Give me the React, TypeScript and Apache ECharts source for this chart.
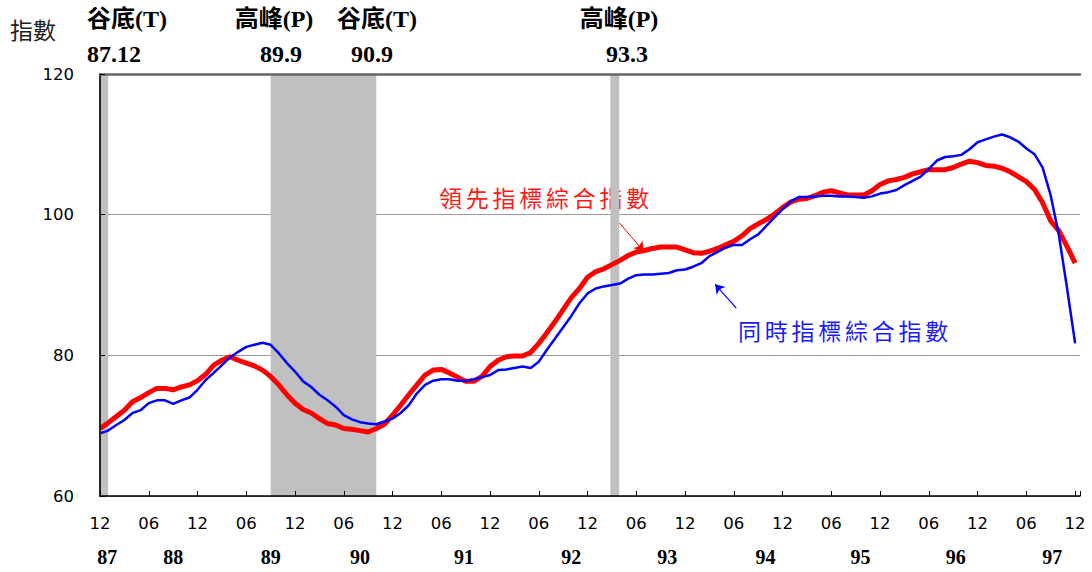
import React, { useEffect, useRef } from 'react';
import * as echarts from 'echarts';

// Monthly data, index 0 = 87.12 ... index 120 = 97.12
const leading = [
  69.6, 70.4, 71.3, 72.2, 73.4, 74.0, 74.7, 75.3, 75.3, 75.1, 75.5, 75.8,
  76.4, 77.3, 78.6, 79.3, 79.8, 79.3, 78.9, 78.5, 77.9, 77.0, 75.8, 74.4,
  73.2, 72.3, 71.8, 71.0, 70.3, 70.1, 69.6, 69.5, 69.3, 69.1, 69.6, 70.2,
  71.5, 72.9, 74.4, 75.8, 77.2, 77.9, 78.0, 77.5, 76.9, 76.3, 76.3, 77.0,
  78.4, 79.3, 79.8, 79.9, 79.9, 80.4, 81.7, 83.2, 84.8, 86.5, 88.2, 89.5,
  91.1, 91.9, 92.3, 92.9, 93.5, 94.2, 94.7, 94.9, 95.2, 95.4, 95.4, 95.4,
  95.0, 94.6, 94.5, 94.8, 95.2, 95.7, 96.2, 97.0, 98.0, 98.7, 99.3, 100.1,
  101.0, 101.8, 102.2, 102.3, 102.7, 103.2, 103.4, 103.1, 102.8, 102.8, 102.8, 103.4,
  104.3, 104.8, 105.0, 105.3, 105.8, 106.1, 106.4, 106.4, 106.4, 106.7, 107.2, 107.6,
  107.4, 107.0, 106.9, 106.6, 106.1, 105.4, 104.7, 103.6, 101.7, 99.1, 97.7, 95.5,
  93.1,
];

const coincident = [
  68.9, 69.3, 70.1, 70.8, 71.8, 72.2, 73.2, 73.6, 73.6, 73.1, 73.6, 74.0,
  75.1, 76.5, 77.5, 78.6, 79.7, 80.5, 81.2, 81.5, 81.8, 81.5, 80.3, 78.9,
  77.7, 76.3, 75.5, 74.4, 73.6, 72.7, 71.5, 70.9, 70.5, 70.3, 70.2, 70.6,
  71.0, 71.8, 72.9, 74.6, 75.8, 76.4, 76.6, 76.6, 76.4, 76.4, 76.6, 76.9,
  77.2, 77.9, 78.0, 78.2, 78.4, 78.2, 79.1, 80.8, 82.4, 84.0, 85.6, 87.4,
  88.8, 89.5, 89.8, 90.0, 90.2, 90.9, 91.4, 91.5, 91.5, 91.6, 91.7, 92.1,
  92.2, 92.6, 93.1, 94.1, 94.7, 95.3, 95.7, 95.7, 96.5, 97.2, 98.4, 99.6,
  100.8, 101.9, 102.5, 102.5, 102.6, 102.7, 102.7, 102.6, 102.6, 102.5, 102.4, 102.6,
  103.0, 103.2, 103.5, 104.2, 104.8, 105.4, 106.5, 107.7, 108.2, 108.3, 108.5, 109.3,
  110.3, 110.7, 111.1, 111.4, 111.0, 110.4, 109.4, 108.6, 106.7, 102.7, 97.1, 89.6,
  81.7,
];

const yearLabels = ['87', '88', '89', '90', '91', '92', '93', '94', '95', '96', '97'];
const yearAnchorMonth = [0.9, 9, 21, 32, 44.8, 58, 69.8, 81.9, 93.6, 105.3, 117.2];

// shaded recession spans (month index start, end)
const shadedSpans: [number, number][] = [[0, 1], [21, 34], [62.8, 63.9]];

const turnKinds = ['谷底(T)', '高峰(P)', '谷底(T)', '高峰(P)'];
const turnDates = ['87.12', '89.9', '90.9', '93.3'];

const leadName = '領先指標綜合指數';
const coinName = '同時指標綜合指數';

const X_MAX = 120.6;

export default function App() {
  const ref = useRef<HTMLDivElement>(null);

  useEffect(() => {
    if (!ref.current) return;
    const chart = echarts.init(ref.current, undefined, { renderer: 'svg' });
    const months = leading.map((_, i) => i);
    const sans = "'DejaVu Sans', sans-serif";
    const serifCjk = "'Liberation Serif', 'Noto Sans CJK TC', serif";

    const option: any = {
      animation: false,
      backgroundColor: '#fff',
      grid: { left: 100, top: 74, right: 12, bottom: 76 },
      xAxis: [
        {
          type: 'value', min: 0, max: X_MAX, interval: 6, position: 'bottom', z: 10,
          axisLine: { show: true, lineStyle: { color: '#000', width: 1.5 } },
          axisTick: { show: true, inside: true, length: 5, lineStyle: { color: '#000', width: 1 } },
          axisLabel: {
            showMaxLabel: true, showMinLabel: true,
            fontSize: 16.5, color: '#000', fontFamily: sans, margin: 19,
            formatter: (v: number) => (Math.abs(v % 12) < 1e-6 ? '12' : Math.abs(v % 6) < 1e-6 ? '06' : ''),
          },
          splitLine: { show: false },
        },
        {
          type: 'value', min: 0, max: X_MAX, position: 'top', z: 10,
          axisLine: { show: true, lineStyle: { color: '#666', width: 2.5 } },
          axisTick: { show: false }, axisLabel: { show: false }, splitLine: { show: false },
        },
      ],
      yAxis: [
        {
          type: 'value', min: 60, max: 120, interval: 20, position: 'left',
          axisLine: { show: false }, axisTick: { show: false },
          axisLabel: { fontSize: 16.5, color: '#000', fontFamily: sans, margin: 26 },
          splitLine: { show: true, lineStyle: { color: '#999', width: 1 } },
        },
        {
          type: 'value', min: 60, max: 120, interval: 20, position: 'right', z: 10,
          axisLine: { show: true, lineStyle: { color: '#888', width: 1.5 } },
          axisTick: { show: false }, axisLabel: { show: false }, splitLine: { show: false },
        },
        {
          type: 'value', min: 60, max: 120, interval: 20, position: 'left', z: 10,
          axisLine: { show: true, lineStyle: { color: '#000', width: 1.5 } },
          axisTick: { show: true, inside: true, length: 5, lineStyle: { color: '#000' } },
          axisLabel: { show: false }, splitLine: { show: false },
        },
      ],
      series: [
        {
          type: 'line', name: 'shade', z: 1, silent: true,
          data: months.map((m) => [m, leading[m]]),
          symbol: 'none', lineStyle: { opacity: 0 },
          markArea: {
            silent: true,
            itemStyle: { color: '#c0c0c0', opacity: 1 },
            data: shadedSpans.map(([a, b]) => [{ xAxis: a }, { xAxis: b }]),
          },
        },
        {
          type: 'line', name: leadName, z: 3,
          data: months.map((m) => [m, leading[m]]),
          symbol: 'none',
          lineStyle: { color: '#ff0000', width: 5 },
          markLine: {
            silent: true, symbol: ['none', 'arrow'], symbolSize: 9,
            label: { show: false },
            lineStyle: { color: '#ff0000', width: 1, type: 'solid' },
            data: [[{ coord: [63.95, 98.8] }, { coord: [66.9, 94.8] }]],
          },
        },
        {
          type: 'line', name: coinName, z: 4,
          data: months.map((m) => [m, coincident[m]]),
          symbol: 'none',
          lineStyle: { color: '#0000ff', width: 2.5 },
          markLine: {
            silent: true, symbol: ['none', 'arrow'], symbolSize: 9,
            label: { show: false },
            lineStyle: { color: '#0000ff', width: 1.2, type: 'solid' },
            data: [[{ coord: [78.3, 86.7] }, { coord: [75.7, 90.1] }]],
          },
        },
      ],
    };
    chart.setOption(option);

    const px = (m: number) => chart.convertToPixel({ xAxisIndex: 0 }, m) as number;

    const graphics: any[] = [];
    // y axis title
    graphics.push({
      type: 'text', left: 10, top: 17,
      style: { text: '指數', fontSize: 23, fill: '#222', fontFamily: "'Noto Sans CJK TC', sans-serif" },
    });
    // turning point labels
    const kindX = [127, 274, 377, 619];
    const dateX = [114, 281, 372, 627];
    turnKinds.forEach((k, i) => {
      graphics.push({
        type: 'text', x: kindX[i], y: 19,
        style: { text: k, fontSize: 24, fontWeight: 'bold', fill: '#000', fontFamily: serifCjk, align: 'center', verticalAlign: 'middle' },
      });
      graphics.push({
        type: 'text', x: dateX[i], y: 54,
        style: { text: turnDates[i], fontSize: 24, fontWeight: 'bold', fill: '#000', fontFamily: serifCjk, align: 'center', verticalAlign: 'middle' },
      });
    });
    // year labels
    yearLabels.forEach((y, i) => {
      graphics.push({
        type: 'text', x: px(yearAnchorMonth[i]), y: 557,
        style: { text: y, fontSize: 20, fontWeight: 'bold', fill: '#000', fontFamily: serifCjk, align: 'center', verticalAlign: 'middle' },
      });
    });
    // series annotations (spaced characters)
    const addSpaced = (text: string, x0: number, yc: number, color: string) => {
      Array.from(text).forEach((c, k) => {
        graphics.push({
          type: 'text', x: x0 + k * 26.75, y: yc,
          style: { text: c, fontSize: 23, fill: color, fontFamily: "'Noto Sans CJK TC', sans-serif", align: 'left', verticalAlign: 'middle' },
        });
      });
    };
    addSpaced(leadName, 439, 197, '#ff1a1a');
    addSpaced(coinName, 738, 330, '#1a1aff');

    chart.setOption({ graphic: graphics });

    return () => chart.dispose();
  }, []);

  return <div ref={ref} style={{ width: 1092, height: 572, position: 'absolute', left: 0, top: 0 }} />;
}
